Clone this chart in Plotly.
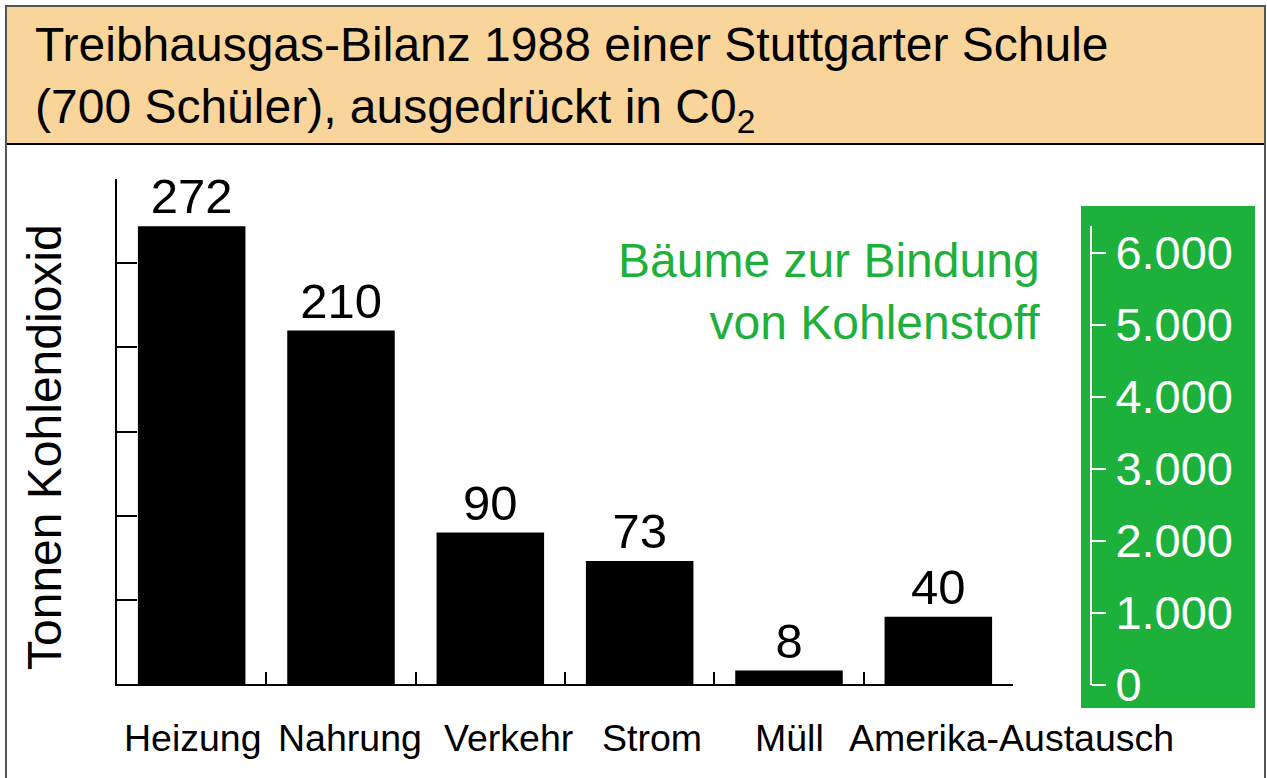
import plotly.graph_objects as go

# ---- data ----
categories = ["Heizung", "Nahrung", "Verkehr", "Strom", "Müll", "Amerika-Austausch"]
tonnes_co2 = [272, 210, 90, 73, 8, 40]
tree_ticks = [0, 1000, 2000, 3000, 4000, 5000, 6000]
title_lines = ["Treibhausgas-Bilanz 1988 einer Stuttgarter Schule",
               "(700 Schüler), ausgedrückt in C0<sub>2</sub>"]
y_title = "Tonnen Kohlendioxid"
tree_label = "Bäume zur Bindung<br>von Kohlenstoff"

# ---- layout helpers (pixel -> paper) ----
W, H = 1267, 778
def fx(px):
    return px / W
def fy(py):
    return 1 - py / H

FONT = "Liberation Sans, Arial, sans-serif"
GREEN = "#1DB03A"
ORANGE = "#F9D49B"
label_shift = [1, 9, 18, 12, 0, 73]

fig = go.Figure()
fig.add_trace(go.Bar(
    x=categories, y=tonnes_co2,
    marker=dict(color="black", line=dict(width=0)),
    width=0.72,
    text=[str(v) for v in tonnes_co2],
    textposition="outside",
    textfont=dict(size=49, color="black", family=FONT),
    cliponaxis=False, constraintext="none",
    showlegend=False, hoverinfo="skip",
))
# invisible trace to host the tree axis
fig.add_trace(go.Scatter(x=[None], y=[None], xaxis="x2", yaxis="y2", mode="markers",
                         showlegend=False, hoverinfo="skip"))

shapes = [
    # title box
    dict(type="rect", xref="paper", yref="paper",
         x0=fx(6), x1=fx(1265), y0=fy(144), y1=fy(6),
         fillcolor=ORANGE, line=dict(color="black", width=2), layer="below"),
    # outer frame
    dict(type="rect", xref="paper", yref="paper",
         x0=fx(6), x1=fx(1265), y0=fy(800), y1=fy(6),
         fillcolor="rgba(0,0,0,0)", line=dict(color="#555555", width=2), layer="below"),
    # green box
    dict(type="rect", xref="paper", yref="paper",
         x0=fx(1081), x1=fx(1255), y0=fy(708), y1=fy(206),
         fillcolor=GREEN, line=dict(width=0), layer="below"),
]

annotations = [
    dict(text=y_title, xref="paper", yref="paper", x=fx(45), y=fy(447),
         textangle=-90, showarrow=False, xanchor="center", yanchor="middle",
         font=dict(size=48, color="black", family=FONT)),
    dict(text=tree_label, xref="paper", yref="paper", x=fx(1042), y=fy(292),
         showarrow=False, xanchor="right", yanchor="middle", align="right",
         font=dict(size=48, color=GREEN, family=FONT)),
]
for cat, sh in zip(categories, label_shift):
    annotations.append(dict(text=cat, xref="x", yref="paper", x=cat, y=fy(738),
                            xshift=sh, showarrow=False, xanchor="center", yanchor="middle",
                            font=dict(size=37.5, color="black", family=FONT)))

fig.update_layout(
    width=W, height=H,
    margin=dict(l=0, r=0, t=0, b=0, autoexpand=False),
    paper_bgcolor="white", plot_bgcolor="rgba(0,0,0,0)",
    separators=",.",
    font=dict(family=FONT, color="black"),
    title=dict(text="<br>".join(title_lines), x=fx(35), xanchor="left", xref="paper",
               y=fy(61), yanchor="middle", yref="container",
               font=dict(size=48, color="black", family=FONT)),
    bargap=0.28,
    xaxis=dict(domain=[fx(117), fx(1013)], range=[-0.5, 5.5], type="category",
               showline=True, linecolor="black", linewidth=2,
               ticks="inside", tickson="boundaries", ticklen=12, tickwidth=2, tickcolor="black",
               showticklabels=False, showgrid=False, zeroline=False, automargin=False,
               fixedrange=True),
    yaxis=dict(domain=[fy(684), fy(179)], range=[0, 300], dtick=50, tick0=0,
               showline=True, linecolor="black", linewidth=2,
               ticks="inside", ticklen=20, tickwidth=2, tickcolor="black",
               showticklabels=False, showgrid=False, zeroline=False, automargin=False,
               fixedrange=True),
    xaxis2=dict(domain=[fx(1091), fx(1250)], anchor="y2", visible=False, range=[0, 1]),
    yaxis2=dict(domain=[fy(685), fy(226)], range=[0, 6375], anchor="free", position=fx(1091),
                side="right", tickvals=tree_ticks, tickformat=",d",
                showline=True, linecolor="white", linewidth=2,
                ticks="outside", ticklen=14, tickwidth=2, tickcolor="white",
                tickfont=dict(size=47, color="white", family=FONT),
                showgrid=False, zeroline=False, automargin=False, fixedrange=True),
    shapes=shapes,
    annotations=annotations,
)

fig.write_html("out.html", config={"displayModeBar": False},
               post_script="document.body.style.margin='0';document.body.style.overflow='hidden';")
